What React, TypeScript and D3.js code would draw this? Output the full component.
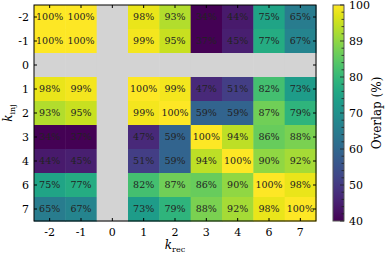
import React from "react";
import * as d3 from "d3";

// k_rec along x, k_inj along y
const kRec = ["-2", "-1", "0", "1", "2", "3", "4", "6", "7"];
const kInj = ["-2", "-1", "0", "1", "2", "3", "4", "6", "7"];

// overlap (%) per row of k_inj; null = not computed (grey)
const overlap: (number | null)[][] = [
  [100, 100, null, 98, 93, 34, 44, 75, 65],
  [100, 100, null, 99, 95, 37, 45, 77, 67],
  [null, null, null, null, null, null, null, null, null],
  [98, 99, null, 100, 99, 47, 51, 82, 73],
  [93, 95, null, 99, 100, 59, 59, 87, 79],
  [34, 37, null, 47, 59, 100, 94, 86, 88],
  [44, 45, null, 51, 59, 94, 100, 90, 92],
  [75, 77, null, 82, 87, 86, 90, 100, 98],
  [65, 67, null, 73, 79, 88, 92, 98, 100],
];

const cbTicks = [40, 50, 60, 70, 80, 90, 100];
const cbTickLabels = ["40", "50", "60", "70", "80", "89", "100"];

const font = "'DejaVu Serif', serif";

export default function App() {
  const left = 34, right = 316, top = 5, bottom = 221;
  const x = d3.scaleBand().domain(kRec).range([left, right]);
  const y = d3.scaleBand().domain(kInj).range([top, bottom]);
  const color = d3.scaleSequential(d3.interpolateViridis).domain([40, 100]).clamp(true);

  const cbX = 333, cbW = 11;
  const cbY = d3.scaleLinear().domain([40, 100]).range([bottom, top]);
  const stops = d3.range(0, 1.0001, 0.05);
  const minor = d3.range(40, 100.1, 2);

  return (
    <svg width={390} height={256} style={{ position: "absolute", left: 0, top: 0 }} fontFamily={font}>
      <defs>
        <linearGradient id="cb" x1="0" y1="1" x2="0" y2="0">
          {stops.map((t) => (
            <stop key={t} offset={t} stopColor={d3.interpolateViridis(t)} />
          ))}
        </linearGradient>
      </defs>

      {/* cells */}
      {overlap.map((row, i) =>
        row.map((v, j) => (
          <g key={`${i}-${j}`}>
            <rect
              x={x(kRec[j])}
              y={y(kInj[i])}
              width={x.bandwidth() + 0.5}
              height={y.bandwidth() + 0.5}
              fill={v === null ? "#d3d3d3" : color(v)}
            />
            {v !== null && (
              <text
                x={x(kRec[j])! + x.bandwidth() / 2}
                y={y(kInj[i])! + y.bandwidth() / 2}
                dy="0.35em"
                textAnchor="middle"
                fontSize={9.5}
                fill="#222"
              >
                {v}%
              </text>
            )}
          </g>
        ))
      )}

      <rect x={left} y={top} width={right - left} height={bottom - top} fill="none" stroke="#000" strokeWidth={1} />

      {/* x ticks */}
      {kRec.map((k) => {
        const cx = x(k)! + x.bandwidth() / 2;
        return (
          <g key={"x" + k}>
            <line x1={cx} x2={cx} y1={top} y2={top + 3} stroke="#000" />
            <line x1={cx} x2={cx} y1={bottom} y2={bottom - 3} stroke="#000" />
            <text x={cx} y={bottom + 15} textAnchor="middle" fontSize={11}>{k}</text>
          </g>
        );
      })}
      {/* y ticks */}
      {kInj.map((k) => {
        const cy = y(k)! + y.bandwidth() / 2;
        return (
          <g key={"y" + k}>
            <line x1={left} x2={left + 3} y1={cy} y2={cy} stroke="#000" />
            <line x1={right} x2={right - 3} y1={cy} y2={cy} stroke="#000" />
            <text x={left - 5} y={cy} dy="0.35em" textAnchor="end" fontSize={11}>{k}</text>
          </g>
        );
      })}

      {/* axis titles */}
      <text x={(left + right) / 2} y={249} textAnchor="middle" fontSize={12}>
        <tspan fontStyle="italic">k</tspan>
        <tspan fontSize={8} dy={3}>rec</tspan>
      </text>
      <text transform={`translate(12,${(top + bottom) / 2}) rotate(-90)`} textAnchor="middle" fontSize={12}>
        <tspan fontStyle="italic">k</tspan>
        <tspan fontSize={8} dy={3}>inj</tspan>
      </text>

      {/* colorbar */}
      <rect x={cbX} y={top} width={cbW} height={bottom - top} fill="url(#cb)" stroke="#555" strokeWidth={1} />
      {minor.map((v) => (
        <line key={"m" + v} x1={cbX + cbW} x2={cbX + cbW - (v % 10 === 0 ? 4 : 2.5)} y1={cbY(v)} y2={cbY(v)} stroke="#222" strokeWidth={0.8} />
      ))}
      {cbTicks.map((v, i) => (
        <text key={"c" + v} x={cbX + cbW + 5} y={cbY(v)} dy="0.35em" fontSize={11}>{cbTickLabels[i]}</text>
      ))}
      <text transform={`translate(381,${(top + bottom) / 2}) rotate(-90)`} textAnchor="middle" fontSize={12}>
        Overlap (%)
      </text>
    </svg>
  );
}
